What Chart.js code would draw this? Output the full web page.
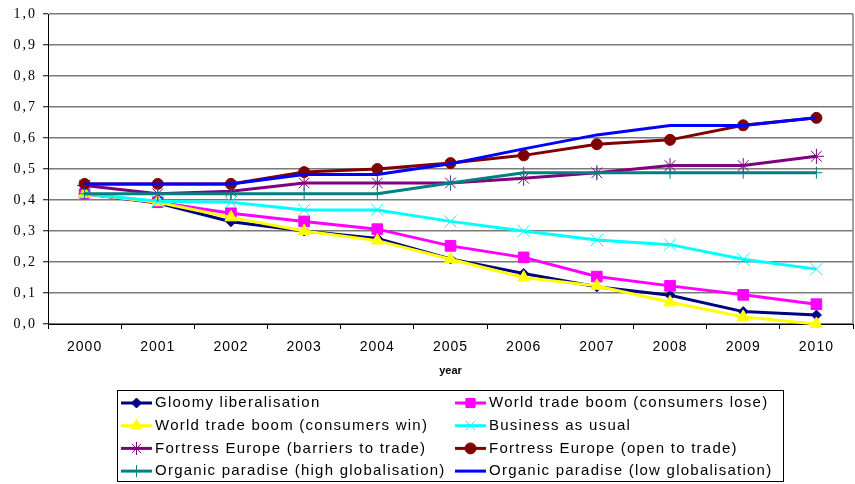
<!DOCTYPE html>
<html>
<head>
<meta charset="utf-8">
<script src="https://cdn.jsdelivr.net/npm/chart.js@4/dist/chart.umd.min.js"></script>
<style>
  html, body { margin: 0; padding: 0; background: #ffffff; }
  #wrap { width: 855px; height: 484px; position: relative; }
</style>
</head>
<body>
<div id="wrap"><canvas id="c" width="855" height="484"></canvas></div>
<script>
// ---- data ----
const years = ['2000','2001','2002','2003','2004','2005','2006','2007','2008','2009','2010'];
const gloomyLiberalisation   = [0.42, 0.39, 0.33, 0.30, 0.276, 0.21, 0.163, 0.12, 0.093, 0.04, 0.029];
const wtbConsumersLose       = [0.42, 0.393, 0.357, 0.331, 0.306, 0.252, 0.215, 0.153, 0.123, 0.094, 0.064];
const wtbConsumersWin        = [0.42, 0.393, 0.344, 0.30, 0.269, 0.209, 0.15, 0.123, 0.07, 0.023, 0.0];
const businessAsUsual        = [0.42, 0.396, 0.393, 0.368, 0.368, 0.331, 0.30, 0.271, 0.256, 0.209, 0.177];
const fortressBarriers       = [0.447, 0.42, 0.428, 0.455, 0.455, 0.455, 0.47, 0.488, 0.511, 0.511, 0.541];
const fortressOpen           = [0.452, 0.452, 0.452, 0.49, 0.50, 0.519, 0.544, 0.58, 0.594, 0.641, 0.665];
const organicHighGlob        = [0.42, 0.42, 0.42, 0.42, 0.42, 0.455, 0.488, 0.488, 0.488, 0.488, 0.488];
const organicLowGlob         = [0.452, 0.452, 0.452, 0.482, 0.482, 0.517, 0.565, 0.61, 0.64, 0.64, 0.665];
const yTickValues            = [0, 0.1, 0.2, 0.3, 0.4, 0.5, 0.6, 0.7, 0.8, 0.9, 1.0];

const seriesNames = [
  'Gloomy liberalisation',
  'World trade boom (consumers lose)',
  'World trade boom (consumers win)',
  'Business as usual',
  'Fortress Europe (barriers to trade)',
  'Fortress Europe (open to trade)',
  'Organic paradise (high globalisation)',
  'Organic paradise (low globalisation)'
];
const seriesData = [gloomyLiberalisation, wtbConsumersLose, wtbConsumersWin, businessAsUsual,
                    fortressBarriers, fortressOpen, organicHighGlob, organicLowGlob];

// ---- styles ----
const seriesStyle = [
  { color: '#000080', point: 'rectRot',  r: 5,   pbw: 1 },
  { color: '#FF00FF', point: 'rect',     r: 7.5, pbw: 1 },
  { color: '#FFFF00', point: 'triangle', r: 7,   pbw: 1 },
  { color: '#00FFFF', point: 'crossRot', r: 8.5, pbw: 1 },
  { color: '#800080', point: 'star',     r: 7.5, pbw: 1 },
  { color: '#800000', point: 'circle',   r: 5.5, pbw: 1 },
  { color: '#008080', point: 'cross',    r: 6,   pbw: 1 },
  { color: '#0000FF', point: false,      r: 0,   pbw: 0 }
];

const N = seriesData.length;
const datasets = seriesData.map((d, i) => ({
  label: seriesNames[i],
  data: d,
  borderColor: seriesStyle[i].color,
  backgroundColor: seriesStyle[i].color,
  borderWidth: 3,
  pointStyle: seriesStyle[i].point,
  pointRadius: seriesStyle[i].r,
  pointBorderWidth: seriesStyle[i].pbw,
  pointBackgroundColor: seriesStyle[i].color,
  pointBorderColor: seriesStyle[i].color,
  tension: 0,
  fill: false,
  clip: false,
  order: N - i
}));

// letter spacing for axis labels (Excel-like spaced text)
const spacingPatch = {
  id: 'spacingPatch',
  afterUpdate(chart) {
    [['x', '1px'], ['y', '2px']].forEach(([id, sp]) => {
      const s = chart.scales[id];
      if (s && !s._lsPatched) {
        const orig = s.drawLabels;
        s.drawLabels = function (a) {
          const c = this.ctx; c.save(); c.letterSpacing = sp; orig.call(this, a); c.restore();
        };
        s._lsPatched = true;
      }
    });
  }
};

// right border of plot area
const plotBorder = {
  id: 'plotBorder',
  beforeDatasetsDraw(chart) {
    const { ctx, chartArea: a } = chart;
    ctx.save();
    ctx.strokeStyle = '#808080';
    ctx.lineWidth = 1.5;
    ctx.beginPath();
    ctx.moveTo(a.right, a.top);
    ctx.lineTo(a.right, a.bottom);
    ctx.stroke();
    ctx.restore();
  }
};

// two-column boxed legend like the Excel one
const LEG = { left: 117.5, top: 390.5, right: 783.5, bottom: 481.5, row0: 403, rowStep: 22.7,
              col: [121, 455], symLen: 31, textGap: 3 };
const boxLegend = {
  id: 'boxLegend',
  afterDraw(chart) {
    const ctx = chart.ctx;
    ctx.save();
    ctx.strokeStyle = '#000';
    ctx.lineWidth = 1;
    ctx.strokeRect(LEG.left, LEG.top, LEG.right - LEG.left, LEG.bottom - LEG.top);
    chart.data.datasets.forEach((ds, i) => {
      const col = i % 2, row = Math.floor(i / 2);
      const x0 = LEG.col[col];
      const y = LEG.row0 + row * LEG.rowStep;
      ctx.strokeStyle = ds.borderColor;
      ctx.lineWidth = 3;
      ctx.beginPath();
      ctx.moveTo(x0, y);
      ctx.lineTo(x0 + LEG.symLen, y);
      ctx.stroke();
      if (ds.pointStyle && Chart.helpers && Chart.helpers.drawPoint) {
        ctx.fillStyle = ds.pointBackgroundColor;
        ctx.strokeStyle = ds.pointBorderColor;
        ctx.lineWidth = ds.pointBorderWidth;
        Chart.helpers.drawPoint(ctx, { pointStyle: ds.pointStyle, radius: Math.min(ds.pointRadius, 6.5),
                                       rotation: 0, borderWidth: ds.pointBorderWidth }, x0 + LEG.symLen / 2, y);
      }
      ctx.fillStyle = '#000';
      ctx.font = '15px "Liberation Sans", Arial, sans-serif';
      ctx.letterSpacing = '1.25px';
      ctx.textBaseline = 'middle';
      ctx.textAlign = 'left';
      ctx.fillText(ds.label, x0 + LEG.symLen + LEG.textGap, y);
      ctx.letterSpacing = '0px';
    });
    ctx.restore();
  }
};

new Chart(document.getElementById('c'), {
  type: 'line',
  data: { labels: years, datasets },
  plugins: [spacingPatch, plotBorder, boxLegend],
  options: {
    responsive: false,
    animation: false,
    events: [],
    layout: { autoPadding: false, padding: { left: 0, top: 14, right: 2, bottom: 100 } },
    plugins: { legend: { display: false }, tooltip: { enabled: false }, title: { display: false } },
    scales: {
      x: {
        type: 'category',
        offset: true,
        grid: { display: true, offset: true, drawOnChartArea: false, drawTicks: true, tickLength: 5,
                color: '#000', tickColor: '#000', lineWidth: 1 },
        border: { display: true, color: '#000', width: 1 },
        ticks: { color: '#000', padding: 10, maxRotation: 0, autoSkip: false,
                 font: { family: '"Liberation Sans", Arial, sans-serif', size: 14 } },
        title: { display: true, text: 'year', color: '#000',
                 font: { family: '"Liberation Sans", Arial, sans-serif', size: 11, weight: 'bold' },
                 padding: { top: 0, bottom: 6 } },
        afterFit(s) { s.height = 60; s.paddingLeft = 0; s.paddingRight = 0; }
      },
      y: {
        min: 0, max: 1,
        afterBuildTicks(s) { s.ticks = yTickValues.map(v => ({ value: v })); },
        grid: { color: '#7a7a7a', lineWidth: 1.5, drawTicks: true, tickLength: 5, tickColor: '#000', tickWidth: 1 },
        border: { display: true, color: '#000', width: 1 },
        ticks: { color: '#000', padding: 6,
                 font: { family: '"Liberation Serif", "Times New Roman", serif', size: 14 },
                 callback: v => Number(v).toFixed(1).replace('.', ',') },
        afterFit(s) { s.width = 48; s.paddingTop = 0; s.paddingBottom = 0; }
      }
    }
  }
});
</script>
</body>
</html>
